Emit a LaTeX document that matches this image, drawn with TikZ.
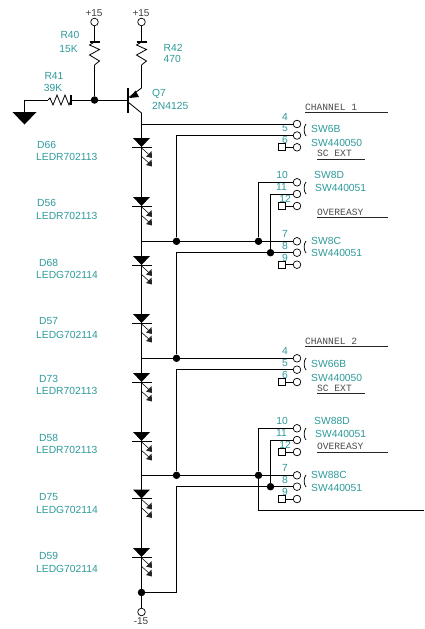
\documentclass[tikz,border=0pt]{standalone}
\usepackage{fontspec}
\setmainfont{Liberation Sans}
\newfontfamily\monoface{Liberation Mono}
\definecolor{labelteal}{HTML}{2E9A9A}
\tikzset{
  wire/.style={line width=0.85pt,black},
  term/.style={circle,draw=black,fill=white,line width=0.7pt,inner sep=0pt,minimum size=7.6pt},
  dot/.style={circle,fill=black,inner sep=0pt,minimum size=7.5pt},
  tbox/.style={rectangle,draw=black,fill=white,line width=0.7pt,inner sep=0pt,minimum size=7pt},
  lab/.style={text=labelteal,font=\fontsize{10.3}{11}\selectfont,inner sep=0pt,anchor=west},
  clab/.style={text=labelteal,font=\fontsize{10.3}{11}\selectfont,inner sep=0pt},
  blab/.style={text=black!75,font=\fontsize{10}{11}\selectfont,inner sep=0pt},
  mlab/.style={text=black!70,font=\monoface\fontsize{9.6}{10}\selectfont,inner sep=0pt,anchor=west},
  point/.style={inner sep=0pt,minimum size=0pt},
}
\newcommand{\swpin}[4]{%
  \node[term] (#1) at (297,#2) {};
  \node[clab] (#1n) at (#4,#2-7) {#3};
}
\newcommand{\swbox}[3]{%
  \node[term] (#1) at (297,#2) {};
  \node[tbox] (#1b) at (282,#2) {};
  \node[clab] (#1n) at (285,#2-7) {#3};
  \draw[wire] (#1b.center) -- (#1);
  \node[tbox] at (282,#2) {};
}
\newcommand{\swbrace}[1]{%
  \draw[line width=0.7pt] (306,#1-6) .. controls (303.5,#1-3) and (303.5,#1+3) .. (306,#1+6);
}
\newcommand{\led}[2]{%
  \coordinate (#1) at (141.5,#2);
  \fill (133,#2) -- (150,#2) -- (141.5,#2+9) -- cycle;
  \draw[line width=0.8pt] (131.5,#2+9) -- (151.5,#2+9);
  \draw[line width=0.55pt] (141.7,#2+10) -- (150.5,#2+18);
  \fill[black!85] (152,#2+20) -- (151.6,#2+13) -- (146,#2+18.5) -- cycle;
  \draw[line width=0.55pt] (141.7,#2+18.5) -- (150.5,#2+26.5);
  \fill[black!85] (152,#2+28.5) -- (151.6,#2+21.5) -- (146,#2+27) -- cycle;
}
\begin{document}
\begin{tikzpicture}[x=1pt,y=-1pt]
\useasboundingbox (0,0) rectangle (424,629);
\fill[white] (0,0) rectangle (424,629);

\node[term] (vcca) at (94.5,22) {};
\node[term] (vccb) at (141.5,22) {};
\node[term] (vee) at (141.5,612) {};
\node[blab] (vcal) at (94,13) {+15};
\node[blab] (vcbl) at (141,13) {+15};
\node[blab] (veel) at (141,621) {-15};

\node[dot] (jb) at (94.5,100) {};
\node[point] (bb) at (128,100) {};
\node[point] (em) at (141.5,88) {};
\node[point] (co) at (141.5,113) {};
\node[point] (r41r) at (71,100) {};
\node[point] (r41l) at (48,100) {};
\node[point] (gnd) at (24.5,100) {};
\node[point] (gndb) at (24.5,112) {};

\draw[wire] (vcca) -- (94.5,42);
\draw[line width=1.1pt] (89.5,42) -- (99.5,42);
\draw[line width=0.8pt] (94.5,42) -- (89.5,45) -- (99.5,49.5) -- (89.5,55) -- (99.5,61) -- (94.5,65);
\draw[wire] (94.5,65) -- (jb);
\draw[wire] (vccb) -- (141.5,42);
\draw[line width=1.1pt] (136.5,42) -- (146.5,42);
\draw[line width=0.8pt] (141.5,42) -- (136.5,45) -- (146.5,49.5) -- (136.5,55) -- (146.5,61) -- (141.5,65);
\draw[wire] (141.5,65) -- (em);
\draw[wire] (bb) -- (jb) -- (r41r);
\draw[line width=1.3pt] (71,95) -- (71,105);
\draw[line width=0.8pt] (r41r) -- (69,105) -- (65,95) -- (61,105) -- (57,95) -- (53,105) -- (50,98) -- (r41l);
\draw[wire] (r41l) -- (gnd.center) -- (gndb.center);
\fill (12.5,112) -- (36.5,112) -- (24.5,124.5) -- cycle;
\draw[line width=1.4pt] (128,88) -- (128,112.5);
\draw[wire] (128,98) -- (em.center);
\draw[wire] (128,102) -- (co.center);
\fill (129.5,98) -- (135.5,90.5) -- (139,97) -- cycle;

\node[dot] (j1) at (176.5,241.3) {};
\node[dot] (j2) at (258.5,241.3) {};
\node[dot] (j3) at (270.5,252.7) {};
\node[dot] (j4) at (176.5,358.3) {};
\node[dot] (j5) at (176.5,475.3) {};
\node[dot] (j6) at (258.5,475.3) {};
\node[dot] (j7) at (270.5,486.7) {};
\node[dot] (j8) at (141.5,592.5) {};

\swpin{aa}{124}{4}{285}
\swpin{ab}{135.5}{5}{285}
\swbox{ac}{147.3}{6}
\swpin{ba}{182.3}{10}{282}
\swpin{bb2}{194}{11}{281.5}
\swbox{bc}{206}{12}
\swpin{ca}{241.3}{7}{285}
\swpin{cb}{252.7}{8}{285}
\swbox{cc}{264.7}{9}
\swpin{da}{358.3}{4}{285}
\swpin{db}{369.7}{5}{285}
\swbox{dc}{382}{6}
\swpin{ea}{428.3}{10}{282}
\swpin{eb}{440}{11}{281.5}
\swbox{ec}{452}{12}
\swpin{fa}{475.3}{7}{285}
\swpin{fb}{486.7}{8}{285}
\swbox{fc}{499}{9}
\foreach \yy in {130,188,247,364,434,481} {\swbrace{\yy}}

\draw[wire] (141.5,113) -- (vee);
\draw[wire] (141.5,124) -- (aa);
\draw[wire] (ab) -- (176.5,135.5) -- (j1);
\draw[wire] (141.5,241.3) -- (j1) -- (j2) -- (ca);
\draw[wire] (j2) -- (258.5,182.3) -- (ba);
\draw[wire] (j3) -- (270.5,194) -- (bb2);
\draw[wire] (j4) -- (176.5,252.7) -- (j3) -- (cb);
\draw[wire] (141.5,358.3) -- (j4) -- (da);
\draw[wire] (db) -- (176.5,369.7) -- (j5);
\draw[wire] (141.5,475.3) -- (j5) -- (j6) -- (fa);
\draw[wire] (j6) -- (258.5,428.3) -- (ea);
\draw[wire] (j7) -- (270.5,440) -- (eb);
\coordinate (outr) at (424,510.7);
\draw[wire] (j6) -- (258.5,510.7) -- (outr);
\draw[wire] (j8) -- (176.5,592.5) -- (176.5,486.7) -- (j7) -- (fb);

\led{da1}{138}\led{da2}{197}\led{da3}{256}\led{da4}{314}
\led{da5}{373}\led{da6}{432}\led{da7}{489.5}\led{da8}{548}

\node[clab] (t1) at (70,35) {R40};
\node[clab] (t2) at (68.5,49.5) {15K};
\node[clab] (t3) at (54,75.5) {R41};
\node[clab] (t4) at (53,87.5) {39K};
\node[lab] (t5) at (163.5,48) {R42};
\node[lab] (t6) at (163.5,58.5) {470};
\node[lab] (t7) at (152,94) {Q7};
\node[lab] (t8) at (152,105.5) {2N4125};

\node[lab] (l1) at (37,145) {D66};
\node[lab] (l1b) at (36,157) {LEDR702113};
\node[lab] (l2) at (37,203) {D56};
\node[lab] (l2b) at (36,216) {LEDR702113};
\node[lab] (l3) at (39,263) {D68};
\node[lab] (l3b) at (36,275) {LEDG702114};
\node[lab] (l4) at (39,321) {D57};
\node[lab] (l4b) at (36,335) {LEDG702114};
\node[lab] (l5) at (39,379) {D73};
\node[lab] (l5b) at (36,391) {LEDR702113};
\node[lab] (l6) at (39,438) {D58};
\node[lab] (l6b) at (36,450) {LEDR702113};
\node[lab] (l7) at (39,497) {D75};
\node[lab] (l7b) at (36,510) {LEDG702114};
\node[lab] (l8) at (39,556) {D59};
\node[lab] (l8b) at (36,569) {LEDG702114};

\node[lab] (s1) at (311,128.5) {SW6B};
\node[lab] (s1b) at (311,142.5) {SW440050};
\node[lab] (s2) at (314,174.5) {SW8D};
\node[lab] (s2b) at (315,187.5) {SW440051};
\node[lab] (s3) at (311,240.5) {SW8C};
\node[lab] (s3b) at (311,252.5) {SW440051};
\node[lab] (s4) at (311,363.5) {SW66B};
\node[lab] (s4b) at (311,377.5) {SW440050};
\node[lab] (s5) at (314,420.5) {SW88D};
\node[lab] (s5b) at (315,433.5) {SW440051};
\node[lab] (s6) at (311,474.5) {SW88C};
\node[lab] (s6b) at (311,487.5) {SW440051};

\tikzset{rule/.style={line width=0.85pt,black!85}}
\node[mlab] (m1) at (305,107) {CHANNEL 1};
\draw[rule] (305,112.3) -- (388,112.3);
\node[mlab] (m2) at (317,153) {SC EXT};
\draw[rule] (317,159.3) -- (365,159.3);
\node[mlab] (m3) at (317,212) {OVEREASY};
\draw[rule] (317,217.7) -- (388,217.7);
\node[mlab] (m4) at (305,341) {CHANNEL 2};
\draw[rule] (305,346.5) -- (388,346.5);
\node[mlab] (m5) at (317,388) {SC EXT};
\draw[rule] (317,393.3) -- (365,393.3);
\node[mlab] (m6) at (317,446) {OVEREASY};
\draw[rule] (317,452) -- (388,452);
\end{tikzpicture}
\end{document}
